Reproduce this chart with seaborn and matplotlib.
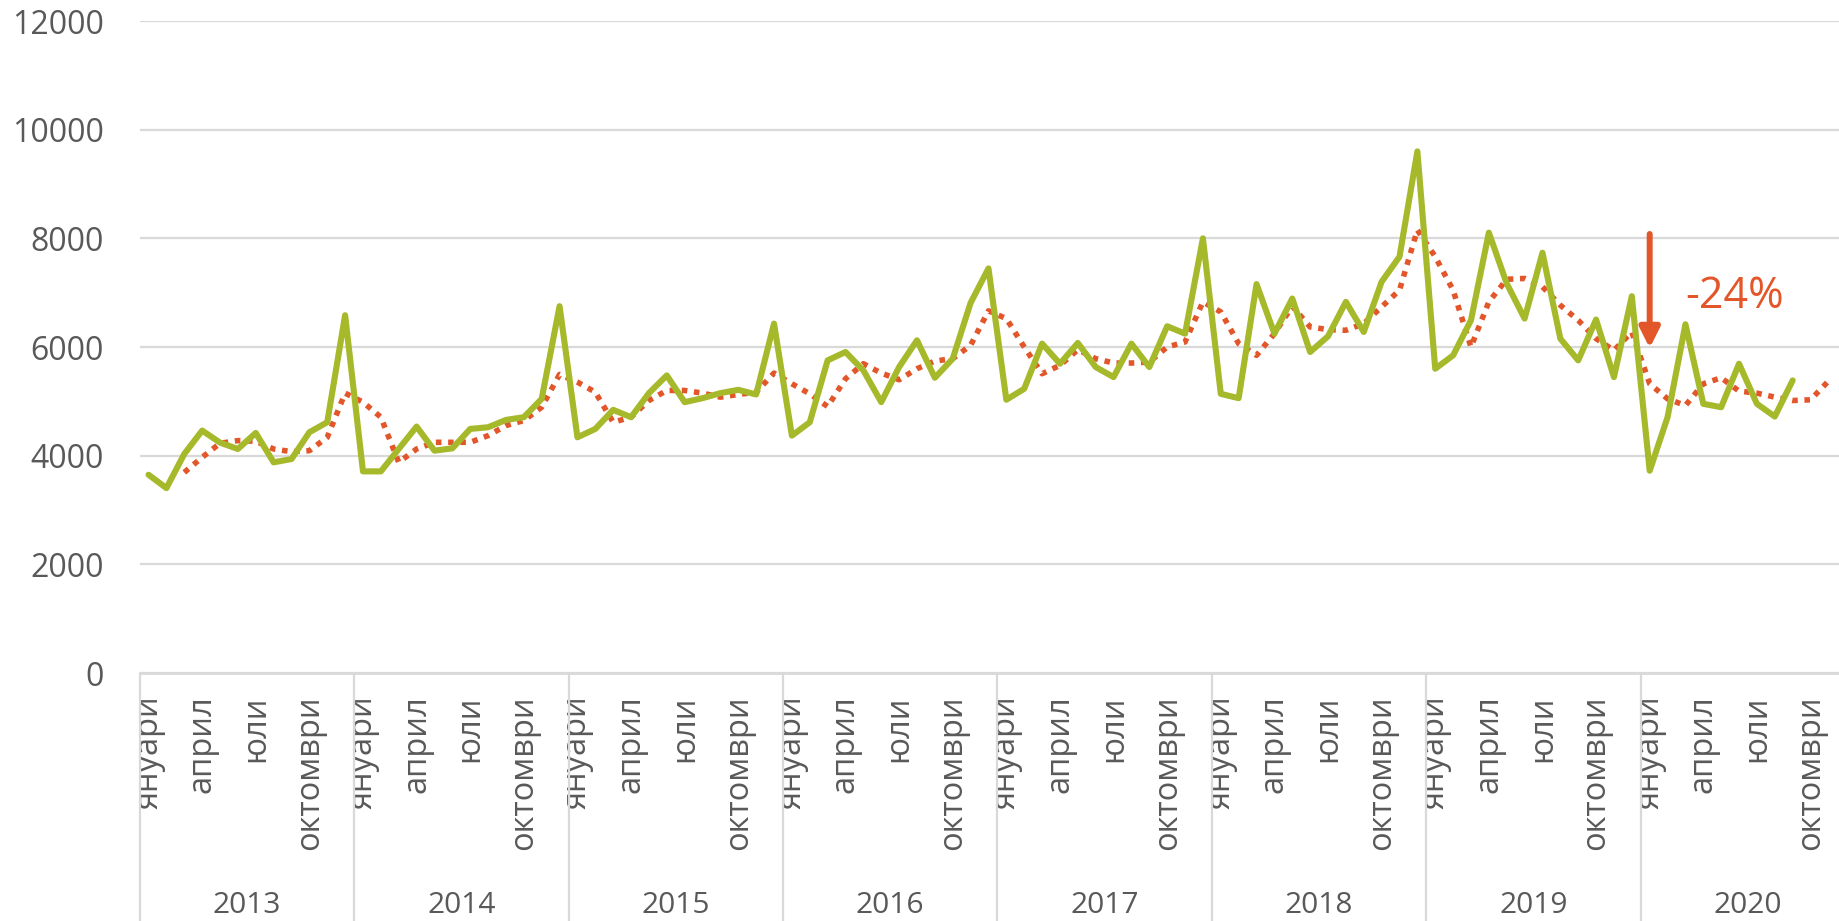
import numpy as np
import pandas as pd
import matplotlib
matplotlib.use("Agg")
import matplotlib.pyplot as plt
import seaborn as sns

# ---------------- data ----------------
years = ['2013', '2014', '2015', '2016', '2017', '2018', '2019', '2020']
month_labels = ['януари', 'април', 'юли', 'октомври']
month_label_offsets = [0, 3, 6, 9]

# monthly values, Jan 2013 .. Sep 2020
monthly = [3649, 3403, 4031, 4462, 4240, 4123, 4418, 3877, 3938, 4431, 4615, 6585,
           3711, 3711, 4123, 4535, 4092, 4135, 4492, 4523, 4658, 4708, 5046, 6751,
           4338, 4492, 4843, 4708, 5151, 5477, 4985, 5058, 5151, 5212, 5126, 6431,
           4369, 4615, 5754, 5908, 5569, 4985, 5631, 6123, 5434, 5785, 6812, 7446,
           5030, 5231, 6062, 5692, 6074, 5631, 5446, 6062, 5631, 6382, 6246, 8000,
           5138, 5058, 7157, 6246, 6892, 5908, 6197, 6831, 6277, 7200, 7662, 9600,
           5600, 5846, 6492, 8105, 7169, 6523, 7735, 6154, 5754, 6505, 5446, 6935,
           3723, 4708, 6418, 4954, 4892, 5692, 4954, 4720, 5385]

# moving-average style series, starting Mar 2013
trend_start = 2
trend = [3692, 3969, 4228, 4277, 4265, 4123, 4074, 4092, 4338, 5151,
         4985, 4708, 3877, 4123, 4246, 4246, 4246, 4369, 4554, 4646, 4892, 5495,
         5354, 5169, 4615, 4708, 5015, 5200, 5200, 5151, 5077, 5126, 5169, 5520,
         5323, 5138, 4904, 5415, 5692, 5520, 5397, 5600, 5742, 5785, 6031, 6665,
         6523, 6000, 5508, 5662, 5950, 5785, 5705, 5705, 5723, 6000, 6092, 6831,
         6646, 6062, 5846, 6246, 6750, 6369, 6320, 6308, 6431, 6738, 7046, 8154,
         7662, 7046, 6000, 6831, 7246, 7262, 7108, 6769, 6492, 6154, 5938, 6277,
         5323, 5046, 4923, 5323, 5434, 5188, 5151, 5077, 5015, 5028, 5372]

annotation_text = '-24%'

# ---------------- style ----------------
GREEN = '#a6b92b'
RED = '#e2562a'
GRID = '#d9d9d9'
TEXT = '#595959'

sns.set_style('white')
plt.rcParams['font.family'] = ['Open Sans', 'DejaVu Sans']

W, H = 1839, 921
fig = plt.figure(figsize=(W / 100, H / 100), dpi=100)
left_px, right_px = 139.6, 139.6 + 8 * 214.45
zero_px, top_px = 673, 21
ax = fig.add_axes([left_px / W, (H - zero_px) / H,
                   (right_px - left_px) / W, (zero_px - top_px) / H])

df_m = pd.DataFrame({'idx': np.arange(len(monthly)), 'value': monthly})
df_t = pd.DataFrame({'idx': np.arange(trend_start, trend_start + len(trend)), 'value': trend})

sns.lineplot(data=df_t, x='idx', y='value', ax=ax, color=RED, linewidth=4.0,
             linestyle=(0, (1, 1.2)), zorder=3)
sns.lineplot(data=df_m, x='idx', y='value', ax=ax, color=GREEN, linewidth=4.4, zorder=4)

n_months = 12 * len(years)
ax.set_xlim(-0.5, n_months - 0.5)
ax.set_ylim(0, 12000)
ax.set_xlabel('')
ax.set_ylabel('')

# y axis
ax.set_yticks(np.arange(0, 12001, 2000))
ax.set_yticklabels([str(v) for v in range(0, 12001, 2000)])
ax.yaxis.grid(True, color=GRID, linewidth=1.6)
ax.xaxis.grid(False)
ax.set_axisbelow(True)
ax.tick_params(axis='y', length=0, pad=26, labelsize=23, labelcolor=TEXT)

# x axis: month labels
xt, xl = [], []
for yi in range(len(years)):
    for off, lab in zip(month_label_offsets, month_labels):
        xt.append(yi * 12 + off)
        xl.append(lab)
ax.set_xticks(xt)
ax.set_xticklabels(xl, rotation=90, va='top', ha='center')
ax.tick_params(axis='x', length=0, pad=16, labelsize=23.5, labelcolor=TEXT)
for lab in ax.get_xticklabels():
    lab.set_x(lab.get_position()[0])

for s in ['left', 'right', 'top']:
    ax.spines[s].set_visible(False)
ax.spines['bottom'].set_color(GRID)
ax.spines['bottom'].set_linewidth(2)

# year separators and labels
xtr = ax.get_xaxis_transform()
for k in range(len(years) + 1):
    ax.plot([k * 12 - 0.5] * 2, [0, -0.6], transform=xtr, color=GRID,
            linewidth=1.6, clip_on=False)
for yi, y in enumerate(years):
    ax.text(yi * 12 + 5.5, -0.357, y, transform=xtr, ha='center', va='center',
            fontsize=21.5, color=TEXT)

# arrow + annotation
ax.annotate('', xy=(84, 5980), xytext=(84, 8080),
            arrowprops=dict(arrowstyle='-|>,head_length=0.6,head_width=0.3',
                            color=RED, lw=4.3, shrinkA=0, shrinkB=0,
                            mutation_scale=20), zorder=5)
ax.text(86.0, 6720, annotation_text, color=RED, fontsize=31, ha='left',
        va='baseline', zorder=5)

fig.savefig('out.png', dpi=100)
